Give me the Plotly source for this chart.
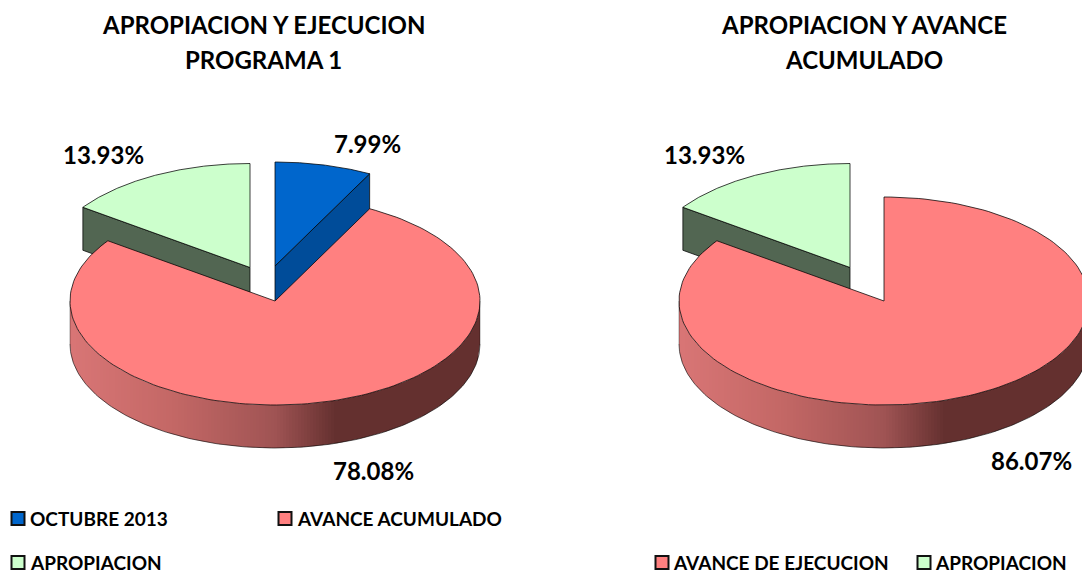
import numpy as np
import plotly.graph_objects as go

# ---- data ----
TITLE_LEFT = ["APROPIACION Y EJECUCION", "PROGRAMA 1"]
TITLE_RIGHT = ["APROPIACION Y AVANCE", "ACUMULADO"]
CATEGORIES_LEFT = ["OCTUBRE 2013", "AVANCE ACUMULADO", "APROPIACION"]
VALUES_LEFT = [7.99, 78.08, 13.93]
CATEGORIES_RIGHT = ["AVANCE DE EJECUCION", "APROPIACION"]
VALUES_RIGHT = [86.07, 13.93]

# ---- style ----
W, H = 1082, 573
FONT = "Lato"
TITLE_SIZE, LABEL_SIZE, LEGEND_SIZE = 24, 24, 19
TOPS = {"OCTUBRE 2013": "#0066CC", "AVANCE ACUMULADO": "#FF8080",
        "AVANCE DE EJECUCION": "#FF8080", "APROPIACION": "#CCFFCC"}
CUTS = {"OCTUBRE 2013": "#004C99", "APROPIACION": "#526652"}
RX, RY, DEPTH = 205, 104, 43
EDGE = "rgba(0,0,0,0.75)"
WALL_POS = [0.0, 0.25, 0.5, 0.65]
WALL_RGB = [(217, 118, 118), (196, 104, 102), (160, 84, 84), (100, 48, 47)]
WALL_STEP = 3

fig = go.Figure()


def display_angle(a):
    # the 3-D projection of the source slightly squeezes the right and stretches the left
    return a * 0.956 if a < 180 else 360 - (360 - a) * 1.089


def rim(cx, cy, t):
    t = np.radians(t)
    return cx + RX * np.sin(t), cy - RY * np.cos(t)


def poly(x, y, fill, line=EDGE, width=1.0):
    fig.add_trace(go.Scatter(x=list(x), y=list(y), mode="lines", fill="toself" if fill else None,
                             fillcolor=fill, line=dict(color=line, width=width),
                             hoverinfo="skip", showlegend=False))


def front_y(cx, cy, x):
    return cy + RY * np.sqrt(np.clip(1 - ((x - cx) / RX) ** 2, 0, 1))


def wall_band(cx, cy, xa, xb, col):
    xs = np.linspace(xa, xb, max(4, int(xb - xa) // 2))
    ys = front_y(cx, cy, xs)
    fig.add_trace(go.Scatter(x=list(np.r_[xs, xs[::-1]]), y=list(np.r_[ys, ys[::-1] + DEPTH]),
                             mode="lines", fill="toself", fillcolor=col,
                             line=dict(color=col, width=0), hoverinfo="skip", showlegend=False))


def wall(cx, cy):
    x0, x1 = cx - RX, cx + RX
    xdark = x0 + WALL_POS[-1] * (x1 - x0)
    for xa in np.arange(x0, xdark, WALL_STEP):
        f = (xa + WALL_STEP / 2 - x0) / (x1 - x0)
        rgb = [np.interp(f, WALL_POS, [c[i] for c in WALL_RGB]) for i in range(3)]
        wall_band(cx, cy, xa, xa + WALL_STEP, "rgb(%d,%d,%d)" % tuple(rgb))
    xe = x0 + np.ceil((xdark - x0) / WALL_STEP) * WALL_STEP
    wall_band(cx, cy, xe, x1, "rgb(%d,%d,%d)" % WALL_RGB[-1])
    ts = np.linspace(90, 270, 181)
    xs, ys = rim(cx, cy, ts)
    poly(xs, ys + DEPTH, None, "rgba(0,0,0,0.6)", 1)
    poly([xs[0], xs[0]], [ys[0], ys[0] + DEPTH], None, "rgba(0,0,0,0.35)", 1)
    poly([xs[-1], xs[-1]], [ys[-1], ys[-1] + DEPTH], None, "rgba(0,0,0,0.35)", 1)


def sector(cx, cy, a0, a1, fill):
    ts = np.linspace(a0, a1, 160)
    x, y = rim(cx, cy, ts)
    poly(np.r_[cx, x, cx], np.r_[cy, y, cy], fill)


def cut(cx, cy, t, fill):
    x, y = rim(cx, cy, t)
    poly([cx, x, x, cx, cx], [cy, y, y + DEPTH, cy + DEPTH, cy], fill)


def pie(cx, cy, categories, values, offsets):
    edges = np.r_[0, np.cumsum(values)] * 3.6
    angles = [display_angle(a) for a in edges]
    # exploded slices go first, the body is drawn over their cut faces
    for i, c in enumerate(categories):
        if c in offsets:
            dx, dy = offsets[c]
            t = angles[i] if angles[i] > 180 else angles[i + 1]
            cut(cx + dx, cy + dy, t, CUTS[c])
            sector(cx + dx, cy + dy, angles[i], angles[i + 1], TOPS[c])
    for i, c in enumerate(categories):
        if c not in offsets:
            wall(cx, cy)
            sector(cx, cy, angles[i], angles[i + 1], TOPS[c])


pie(275, 301, CATEGORIES_LEFT, VALUES_LEFT, {"OCTUBRE 2013": (0, -35), "APROPIACION": (-25, -33.5)})
pie(884, 301, CATEGORIES_RIGHT, VALUES_RIGHT, {"APROPIACION": (-34, -33.5)})


def text(x, y, s, size, anchor="center"):
    fig.add_annotation(x=x, y=y, text=s, showarrow=False, xanchor=anchor, yanchor="middle",
                       xref="x", yref="y", font=dict(family=FONT, size=size, color="black", weight=700))


for cx, lines in ((263, TITLE_LEFT), (864, TITLE_RIGHT)):
    for y, s in zip((24, 59), lines):
        text(cx, y, s, TITLE_SIZE)

for (x, y), v in zip([(367, 143), (373, 470), (103, 154)], VALUES_LEFT):
    text(x, y, f"{v:.2f}%", LABEL_SIZE)
for (x, y), v in zip([(1031, 460), (704, 154)], VALUES_RIGHT):
    text(x, y, f"{v:.2f}%", LABEL_SIZE)

LEGEND_POS = [(18, 518, 10), (285, 518, 10), (18, 562, 10)]
LEGEND_POS_R = [(662, 562, 9), (924, 562, 9)]
for (x, y, gap), c in list(zip(LEGEND_POS, CATEGORIES_LEFT)) + list(zip(LEGEND_POS_R, CATEGORIES_RIGHT)):
    fig.add_trace(go.Scatter(x=[x], y=[y + 0.5], mode="markers", hoverinfo="skip", showlegend=False,
                             marker=dict(symbol="square", size=13, color=TOPS[c],
                                         line=dict(color="#111111", width=2))))
    text(x + gap, y, c, LEGEND_SIZE, "left")

fig.update_xaxes(range=[0, W], visible=False, fixedrange=True)
fig.update_yaxes(range=[H, 0], visible=False, fixedrange=True)
fig.update_layout(width=W, height=H, margin=dict(l=0, r=0, t=0, b=0),
                  paper_bgcolor="white", plot_bgcolor="white", showlegend=False)
fig.write_html("out.html", config={"displayModeBar": False},
               post_script="document.body.style.margin='0';document.body.style.overflow='hidden';")
